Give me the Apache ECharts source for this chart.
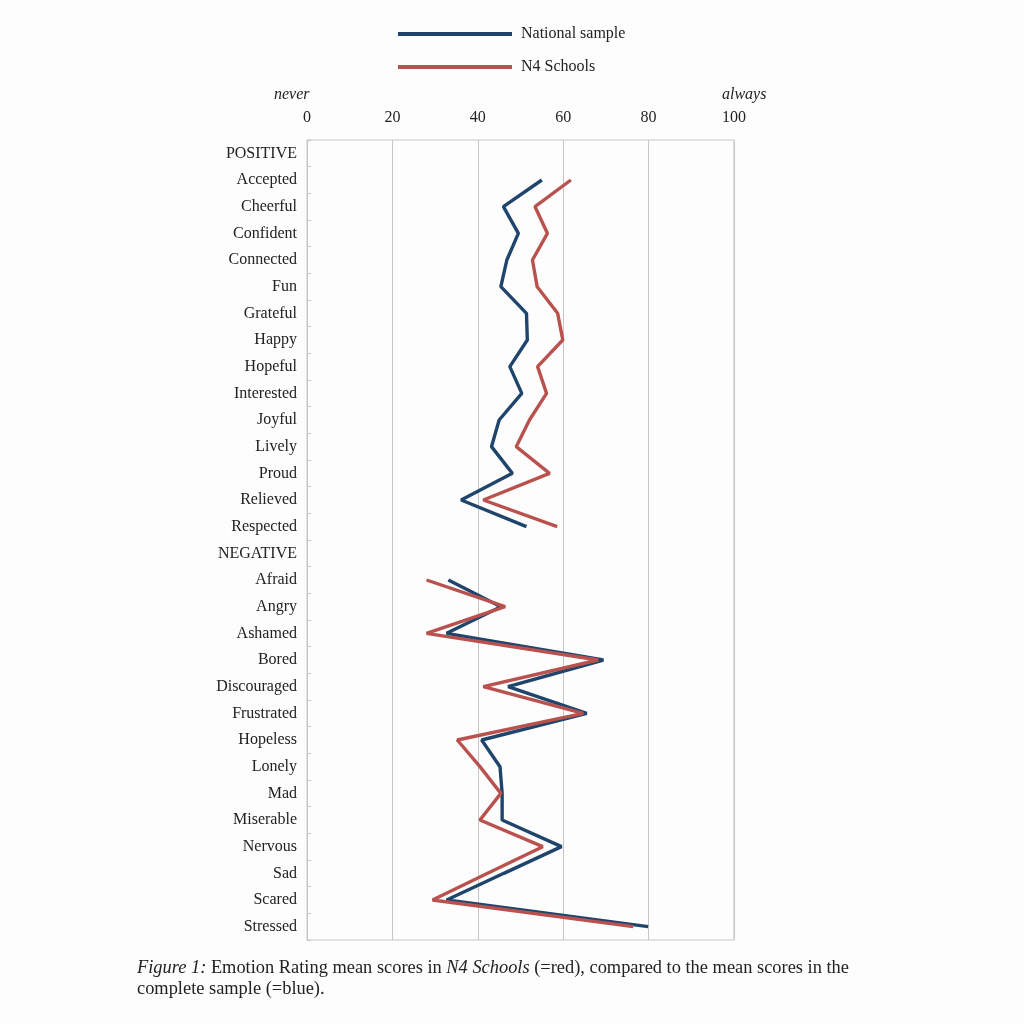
<!DOCTYPE html>
<html>
<head>
<meta charset="utf-8">
<script src="https://cdn.jsdelivr.net/npm/echarts@6/dist/echarts.min.js"></script>
<style>html,body{margin:0;padding:0;background:#fdfdfd;}#c{width:1024px;height:1024px;}</style>
</head>
<body>
<div id="c"></div>
<script>
const categories = ['POSITIVE','Accepted','Cheerful','Confident','Connected','Fun','Grateful','Happy','Hopeful','Interested','Joyful','Lively','Proud','Relieved','Respected','NEGATIVE','Afraid','Angry','Ashamed','Bored','Discouraged','Frustrated','Hopeless','Lonely','Mad','Miserable','Nervous','Sad','Scared','Stressed'];
const nationalSample = [null,55.0,46.0,49.5,46.8,45.4,51.4,51.6,47.5,50.3,45.0,43.2,48.1,36.1,51.4,null,33.1,45.4,32.7,69.4,47.1,65.5,40.9,45.2,45.7,45.7,59.6,46.1,32.7,79.9];
const n4Schools = [null,61.8,53.4,56.3,52.8,53.9,58.7,59.9,54.0,56.1,52.1,49.0,56.8,41.3,58.6,null,28.0,46.4,28.0,68.2,41.3,64.7,35.2,40.5,45.4,40.5,55.2,42.3,29.4,76.4];
const xTicks = [0,20,40,60,80,100];

const serif = '"Liberation Serif","DejaVu Serif",serif';
const chart = echarts.init(document.getElementById('c'));
chart.setOption({
  backgroundColor: '#fdfdfd',
  animation: false,
  legend: {
    orient: 'vertical', left: 393, top: 21, itemWidth: 114, itemHeight: 4, itemGap: 17,
    icon: 'rect',
    textStyle: {fontFamily: serif, fontSize: 16, color: '#222', lineHeight: 16, padding: [0,0,0,4]},
    data: ['National sample','N4 Schools']
  },
  grid: {left: 307, right: 290, top: 140, bottom: 84, show: true, borderColor: '#c6c6c6', borderWidth: 1},
  xAxis: {
    type: 'value', position: 'top', min: 0, max: 100, interval: 20,
    axisLine: {show: false}, axisTick: {show: false},
    axisLabel: {fontFamily: serif, fontSize: 16, color: '#222', margin: 14,
      formatter: v => xTicks.indexOf(v) >= 0 ? String(v) : ''},
    splitLine: {show: true, lineStyle: {color: '#c6c6c6', width: 1}}
  },
  yAxis: {
    type: 'category', inverse: true, data: categories,
    axisLine: {show: true, lineStyle: {color: '#c6c6c6'}},
    axisTick: {show: true, inside: true, length: 4, lineStyle: {color: '#c6c6c6'}},
    axisLabel: {fontFamily: serif, fontSize: 16, color: '#222', margin: 10, padding: [4,0,0,0]}
  },
  series: [
    {name: 'National sample', type: 'line', data: nationalSample, symbol: 'none', connectNulls: false,
     itemStyle: {color: '#1f456d'}, lineStyle: {color: '#1f456d', width: 3.4}},
    {name: 'N4 Schools', type: 'line', data: n4Schools, symbol: 'none', connectNulls: false,
     itemStyle: {color: '#b9524e'}, lineStyle: {color: '#b9524e', width: 3.4}}
  ],
  graphic: [
    {type: 'text', left: 274, top: 87, style: {text: 'never', font: 'italic 16px ' + serif, fill: '#222'}},
    {type: 'text', left: 722, top: 87, style: {text: 'always', font: 'italic 16px ' + serif, fill: '#222'}},
    {type: 'text', left: 137, top: 958, style: {
      text: '{i|Figure 1:} Emotion Rating mean scores in {i|N4 Schools} (=red), compared to the mean scores in the\ncomplete sample (=blue).',
      font: '18.4px ' + serif, fill: '#222', lineHeight: 21,
      rich: {i: {fontStyle: 'italic', fontFamily: serif, fontSize: 18.4, fill: '#222'}}
    }}
  ]
});
</script>
</body>
</html>
